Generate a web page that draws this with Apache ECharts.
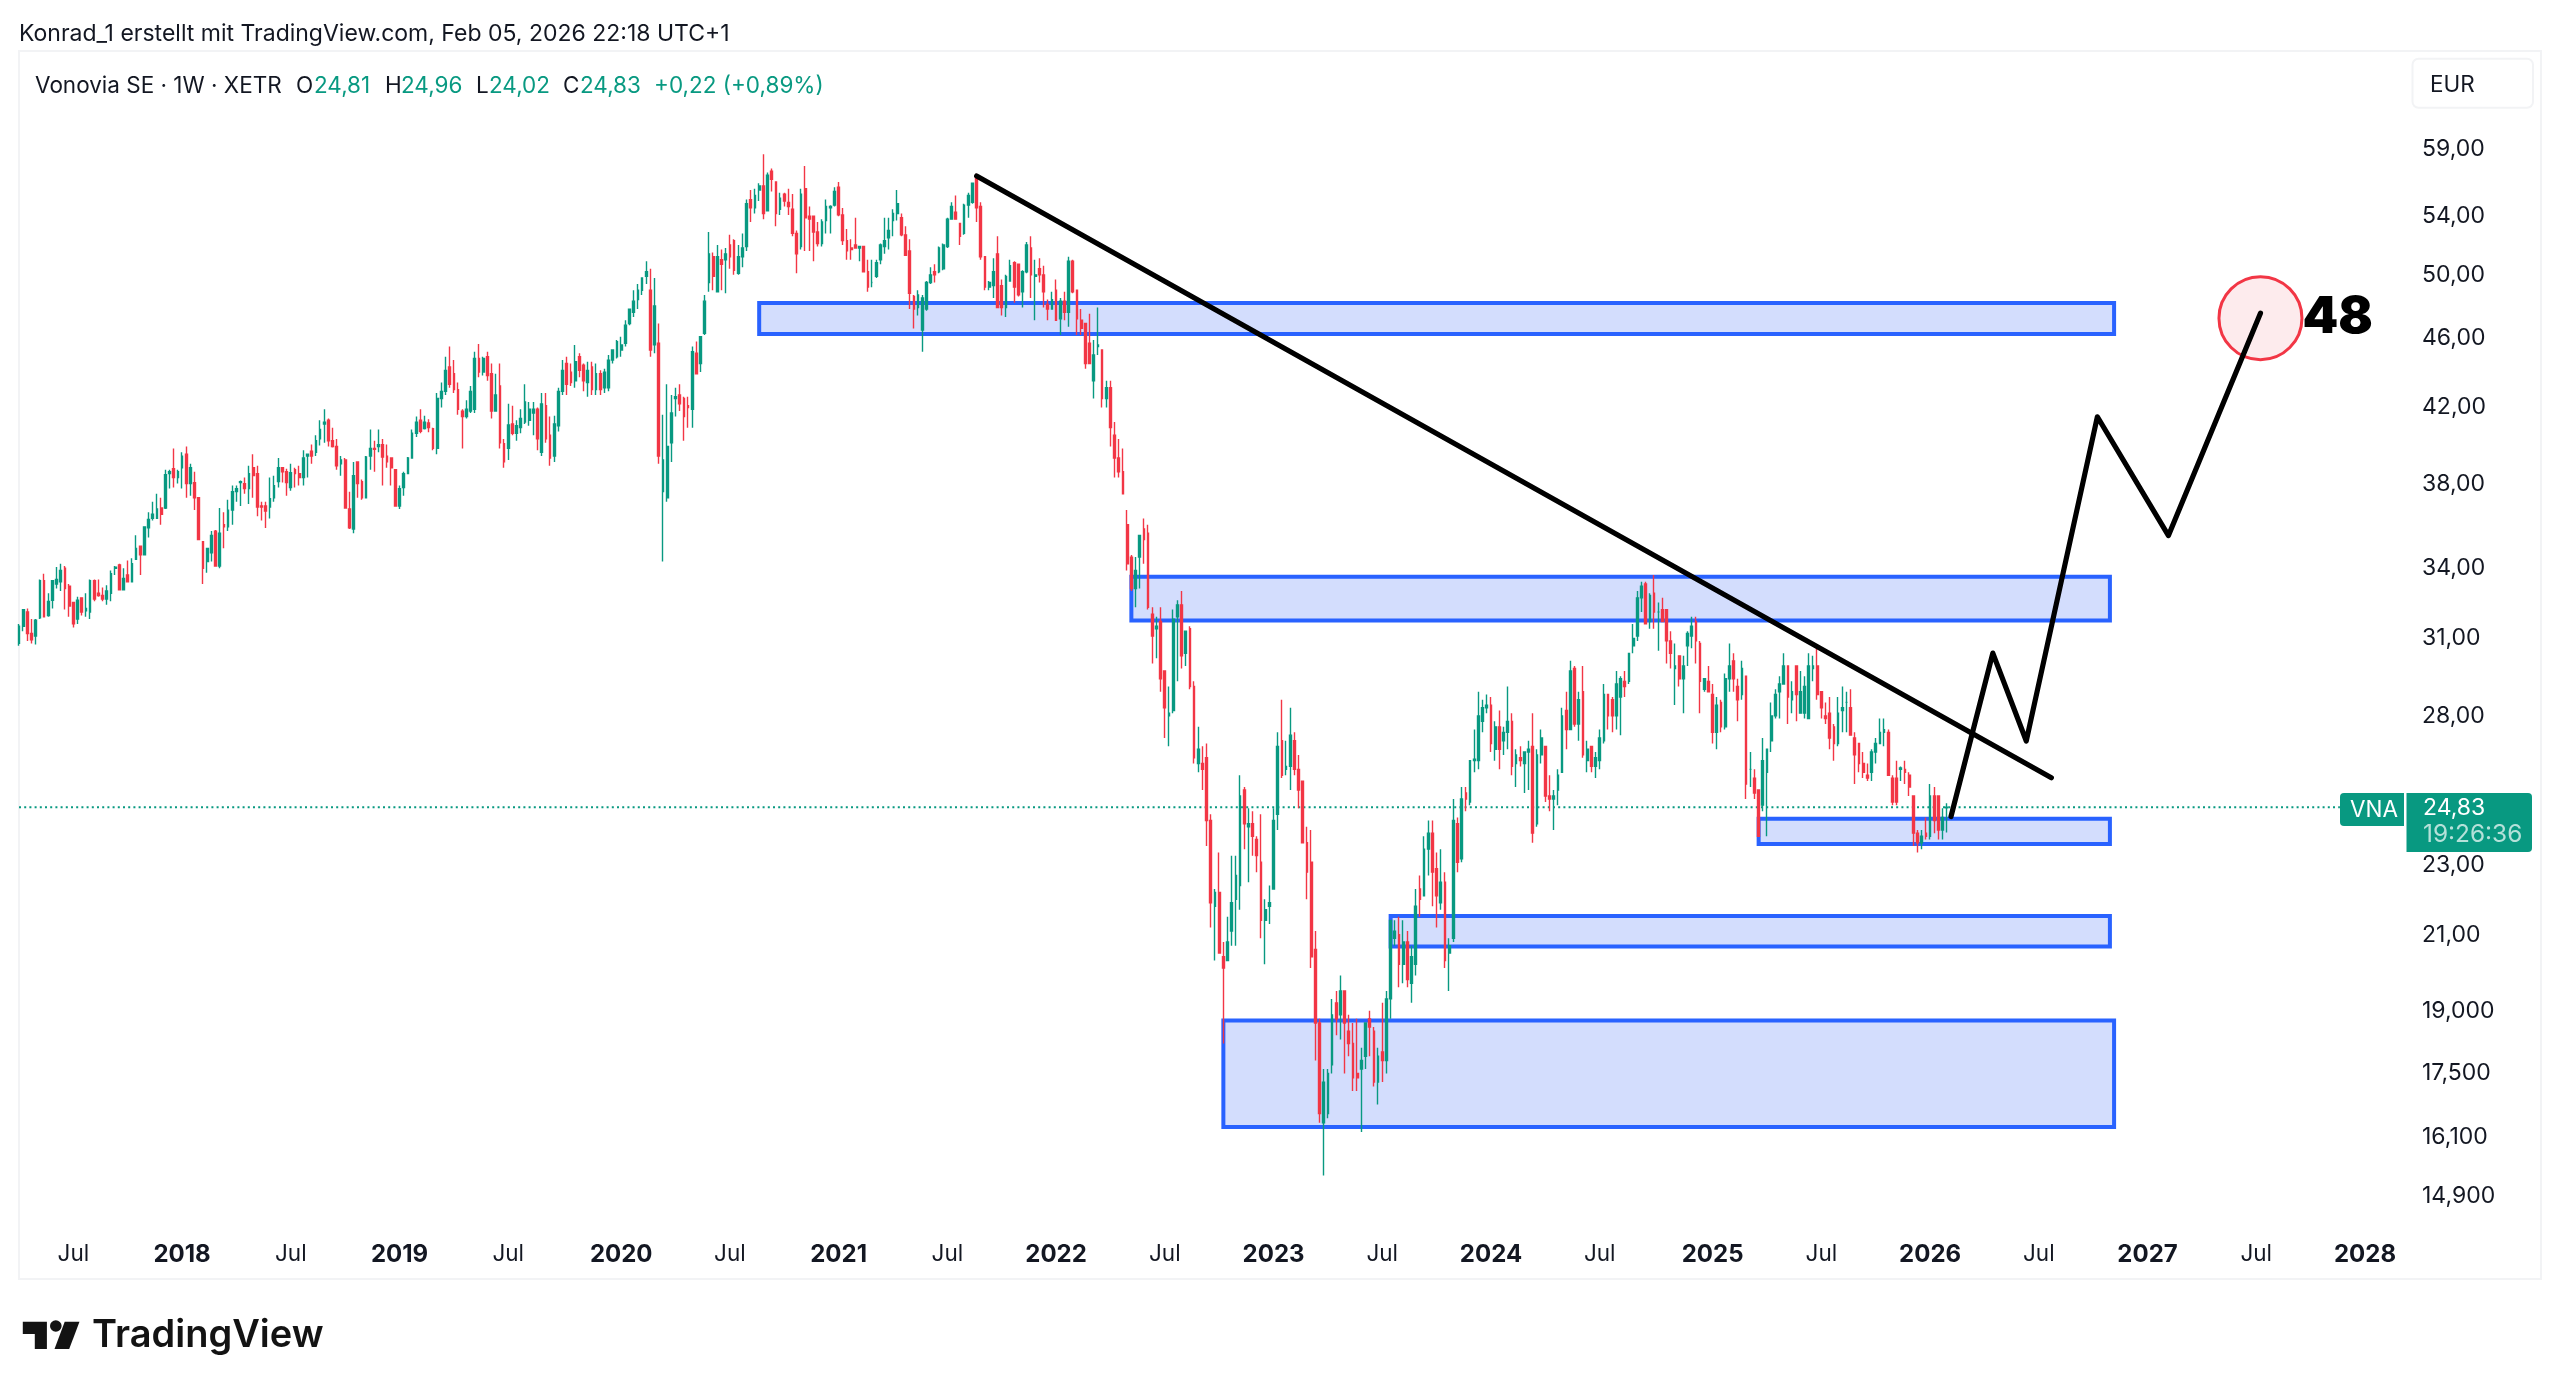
<!DOCTYPE html>
<html><head><meta charset="utf-8">
<style>html,body{margin:0;padding:0;background:#fff}#c{width:2560px;height:1393px}</style>
<script src="https://cdn.jsdelivr.net/npm/echarts@6/dist/echarts.min.js"></script>
</head><body><div id="c"></div>
<script>
// weekly candles, each [open, high, low, close]
const weeks2017=[[30.8,31.6,30.7,31.5],[31.5,32.2,31.3,32.2],[32.1,32.25,30.9,31.2],[31.2,31.8,30.8,30.95],[31.1,31.8,30.75,31.75],[31.85,33.5,31.8,33.45],[33.45,33.75,31.9,31.9],[31.95,32.9,31.9,32.55],[32.6,33.45,32.25,33.45],[33.3,34.05,33.1,33.5],[33.4,34.2,33,33.9],[34,34.1,32.2,33.1],[33.2,33.3,31.9,32.35],[32.5,32.5,31.45,31.6],[31.8,32.75,31.6,32.6],[32.7,32.7,31.95,32.1],[32.15,32.9,31.9,32.25],[32.1,33.5,31.8,33.45],[33.45,33.5,32.55,32.65],[32.9,33.5,32.75,32.8],[32.8,33.15,32.55,32.65],[32.65,33.25,32.4,33],[32.9,33.9,32.55,33.75],[34,34.1,33.7,34.05],[34.15,34.2,33.05,33.05],[33.05,34,33.05,33.55],[33.7,34.35,33.4,33.4],[33.4,34.45,33.4,34.2],[34.4,35.5,34.4,34.9],[35,35,33.7,34.6],[34.6,35.9,34.6,35.9],[35.85,36.6,35.4,36.25],[36.3,37.1,36.2,36.5],[36.3,37.5,36.3,36.75],[36.8,37.3,36,36.5],[36.8,38.7,36.75,38.45],[38.5,38.7,37.75,38.6],[38.75,39.8,37.8,38.3],[38.3,38.7,38,38.6]];
const weeks2018=[[38.8,39.6,37.75,39.4],[39.5,39.9,37.3,38],[38,39,37.4,38.8],[38.05,38.6,36.7,37.3],[37.3,37.3,35.3,35.3],[35.2,35.2,33.3,34],[34.3,34.9,33.8,34.9],[34.7,35.7,34.3,35.5],[35.7,35.75,34.1,34.1],[34.1,36.8,34,35.6],[36,36.6,34.9,35.9],[35.9,37.2,35.7,36.7],[36.7,37.9,36,37.6],[37.6,37.9,37.1,37.75],[38.05,38.15,36.9,38.1],[38,38.3,37.5,37.75],[37.75,38.9,37,38.5],[38.8,39.5,37.3,38.4],[38.5,38.9,36.4,36.85],[36.9,37.1,36.2,36.85],[36.9,37.1,35.85,36.65],[36.85,38.3,36.3,37.25],[37.3,38.4,37.1,37.9],[38.1,39.3,37.8,38.8],[38.8,38.8,38.05,38.6],[38.6,38.75,37.4,38.05],[37.8,39,37.65,38.55],[38.7,38.8,37.8,38.5],[38.5,38.9,37.9,38.3],[38.3,39.7,37.9,39.3],[39.4,39.5,38.3,39.5],[39.65,40,39,39.4],[39.6,40.5,39.4,40.2],[40.3,41.3,39.95,40.8],[41.1,41.9,40.1,41.2],[41.3,41.4,39.9,40.2],[40.2,40.9,39.85,39.9],[39.9,40.3,38.7,38.9],[39,39.4,38.4,39.2],[39.2,39.3,36.8,36.8],[36.75,37.6,35.8,35.85],[35.8,39.1,35.6,38.4],[39.1,39.1,37.3,38],[38.1,38.2,37.2,37.3],[37.3,39.4,37.3,39.35],[39.4,40.8,38.7,39.8],[39.8,40.2,38.6,39.75],[39.9,40.8,39.6,40],[40,40.3,37.9,39.35],[39.4,40,38.8,39.1],[39.3,39.3,37.9,38.8],[38.7,38.7,36.9,36.9]];
const weeks2019=[[36.9,37.9,36.75,37.75],[37.8,38.6,37.4,38.5],[38.5,39.35,38.5,39.3],[39.3,40.8,39.3,40.6],[40.6,41.5,40.4,41.2],[41.3,41.9,40.6,40.7],[40.85,41.55,40.8,41.2],[41.15,41.35,40.65,40.9],[40.85,40.9,39.7,39.8],[39.8,42.8,39.5,42.5],[42.5,43.4,42,42.9],[42.9,44.9,42.7,44.1],[44.3,45.5,43.1,43.3],[43.9,44.7,42.8,43],[43,43.4,41.6,41.9],[41.8,41.9,39.8,41.5],[41.5,42.4,41.4,41.9],[41.8,43.2,41.7,42.9],[41.9,45.2,41.7,44.8],[44.8,45.65,43.7,44],[44,44.9,43.8,44.8],[44.9,45.2,43.5,43.8],[43.9,44.5,41.4,41.8],[41.8,43.9,41.8,42.7],[43.2,44.5,39.8,40.1],[40.05,40.3,38.8,39.1],[39.8,42.2,39.2,41.05],[41.1,42.1,40.5,40.6],[40.6,41.3,40.2,41],[40.9,41.9,40.6,41.4],[41.2,43.3,41.1,42.3],[41.3,42.3,41,41.9],[41.7,42.3,40.5,41.9],[41.9,42,39.7,40.3],[39.6,42.8,39.4,42.2],[42.1,42.8,40.1,40.3],[40.5,41.5,38.9,39.3],[39.4,41.55,39.1,41.1],[41,43.1,40.7,42.9],[42.9,44.7,42.7,44.1],[44.5,44.9,42.7,43.3],[44,44.5,43.2,43.4],[43.5,45.6,43.1,44.6],[44.9,45.1,43.7,44.1],[44.4,44.5,42.9,43.5],[43.4,44.6,42.6,44.1],[44.3,44.6,42.7,43],[43,44.5,42.7,43.9],[43.9,44.1,42.7,43],[43.1,44.2,42.8,44],[43.1,45,42.9,44.7],[44.7,45.3,44.5,45.3]];
const weeks2020=[[44.9,45.9,44.8,45.8],[45.3,46.1,44.9,45.6],[45.7,47.1,45.5,46.8],[46.9,47.8,46.8,47.8],[47.6,49,47.3,48.3],[48.4,49.4,47.8,49],[49,49.8,48.7,49.8],[49.9,50.9,49.4,50.2],[49,50.4,44.9,45.3],[45.6,49.8,45.1,48],[45.7,46.9,39,39.4],[37.6,41.6,34.3,39.2],[37.3,43.3,37.1,39.9],[40.1,42.7,39.1,41.7],[42.5,43.1,41.5,42.6],[42.7,43.3,41.8,42.2],[42.5,42.6,40.2,41.5],[42.1,42.6,40.9,42],[41.9,45.5,40.9,45.2],[45.1,45.8,43.9,43.9],[44.5,46.1,44,46.1],[46.3,48.7,46.2,48.3],[49.5,52.9,48.9,51.4],[51.2,51.5,49,49.9],[48.9,52,48.9,51.2],[51,51.7,49,50.7],[51,51.8,48.8,51.4],[52,52.7,50.4,51.2],[52.3,52.4,50,50.3],[50.1,52,50,51.2],[51.2,52.8,50.5,51.8],[51.9,55.2,51.6,54.9],[55.2,55.9,53.6,54.6],[54.6,56,54.2,55.5],[55.9,56.4,55.1,56.2],[56.2,58.6,53.8,54.2],[54.4,57.2,54.4,57],[57.3,57.5,55.8,56.7],[56.5,56.5,53.3,54.2],[54.5,55.7,54.1,55.3],[55.6,55.7,54.7,55.1],[55,56,54.1,54.7],[54.5,55.6,52.6,52.8],[52.8,53,50.1,51.4],[51.9,56,51.7,55.6],[56,57.7,51.6,53.9],[54,54.7,51.6,53.8],[54,54,50.9,52.9],[52.9,53.6,51.9,52.1],[52.1,53.8,51.9,53.6],[53.7,55.2,52.8,54.7],[54.6,54.8,52.8,54.7]];
const weeks2021=[[54.8,56.1,54.7,55.8],[56.1,56.5,54,54.1],[54.1,54.6,52,52.3],[52.3,53.1,51,51.6],[51.8,52.4,51,51.7],[52,53.9,51.8,51.8],[51.8,51.9,50.9,51.9],[51.9,51.9,50.2,50.2],[50.2,51,48.9,49.2],[49.5,51,49.2,49.5],[49.9,51,49.8,50.8],[51,52.1,50.7,52],[51.9,53.9,51.4,52.3],[52.5,53.9,51.7,53],[53.7,54.5,52.6,54.2],[54.2,55.9,53.7,54.9],[53.9,54.2,52.6,52.7],[52.7,53.3,51.3,51.3],[51.6,52.4,47.8,48.8],[48.6,48.7,46.6,47.8],[47.9,49,47.4,48.7],[46.5,48.7,45.2,48.5],[47.8,49.6,47.7,49.5],[49.5,50.5,49.4,50],[50.2,50.7,49.5,50],[50.2,51.9,50.1,51.8],[50.4,52.1,50.3,52],[51.9,53.9,51.8,53.8],[53.8,55,53.8,54.7],[54.3,55.5,53.8,53.8],[53.5,53.5,52,52.6],[52.8,54.9,52.7,54.8],[54.8,55.7,53.9,55.5],[55,56.4,54.9,56.4],[56.8,57.1,53.6,54.6],[54.7,55,51,51.2],[51.2,51.2,49,49.2],[49.2,49.6,49,49.5],[49.3,51.1,48.5,50.2],[51.4,52.6,47.9,47.9],[49.3,49.7,47.4,47.9],[47.9,50,47.3,49.9],[49.6,51,49.6,50.6],[50.8,50.9,48.2,49.2],[50.7,50.7,48.6,48.7],[48.9,50.3,47.9,50.2],[50.2,52.2,50.1,52],[51.8,52.6,48.5,50],[49.9,51,47.1,50],[50.4,51.1,49.5,50],[50,50.6,47.9,48.9],[48.1,48.4,47.1,47.8]];
const weeks2022=[[47.8,48.9,47.8,48.4],[49,49.7,47.1,47.1],[47.2,48.5,46.2,48.3],[48.3,48.9,47.1,47.6],[47.6,51.2,46.7,50.9],[50.9,51,48.8,48.9],[49,49,46.2,47.2],[47.1,47.8,46.2,46.6],[46.9,46.9,44.2,44.5],[45.7,47.5,44.5,44.5],[43.5,45.9,42.5,45],[45.5,47.9,45,45.6],[45.3,45.3,42,42.5],[42.5,43.5,42,43.1],[43.1,43.5,39.9,40.9],[40.5,41.2,38.3,39.3],[39.3,40.3,38.3,38.6],[38.6,39.8,37.5,37.5],[36,36.7,33.9,34.2],[34.5,34.6,33,33.1],[33.1,34.5,32.3,33.9],[34.5,35.5,33.1,35.5],[35.8,36.3,34.2,35.3],[35.6,36,32.2,32.3],[32,32.3,30,31.1],[31.4,31.9,30.2,31.5],[31.7,32.3,28.9,29.4],[29.7,29.7,27.2,28.3],[28,29.1,26.9,28.1],[28.2,32.2,28.1,31.8],[31.9,32.6,29.3,32.4],[32.4,33,29.8,30.3],[30.4,31.3,29.9,31.3],[31.4,31.5,29,29.1],[29.1,29.3,26.3,26.5],[26.3,27.6,26,26.8],[26.3,26.9,25.4,26.1],[26.5,27,23.6,24.4],[24.4,24.6,21.2,21.9],[21.8,22.3,20.3,22.2],[22.2,23.4,20.5,20.5],[20.4,20.8,18.2,20.1],[20.3,21.5,20.3,20.8],[21.1,23.3,20.7,21.9],[22,23.3,20.7,22.7],[22.4,25.9,21.7,25.2],[25.4,25.5,23.5,24.3],[24.2,24.8,22.5,24.3],[24.3,24.7,23.3,23.9],[23.8,23.9,22.8,23.3],[23.1,24.6,20.9,21.4],[21.4,22,20.2,21.7]];
const weeks2023=[[21.8,22.4,21.3,21.9],[22.3,24.8,22.3,24.4],[24.6,27.4,24.1,26.9],[27.1,28.6,25.8,25.9],[26.1,27.1,25.9,26.2],[26.2,28.3,25.4,27.3],[27.1,27.4,25.9,26.1],[26.1,26.6,24.8,25.4],[25.7,25.7,23.7,23.7],[23.7,24.2,22,22.8],[23.1,24.1,20.1,20.4],[20.6,21.1,17.8,18.7],[18.7,18.8,16.4,16.6],[16.4,17.6,15.3,17.3],[16.6,17.6,16.5,17.5],[17.7,19.3,17.5,18.9],[19.2,19.5,18.4,18.8],[18.9,19.9,18.3,19.5],[19.5,19.5,17.5,18.7],[18.5,18.9,17.9,18.2],[18.2,18.7,17.1,17.4],[17.5,18.8,17.1,17.4],[17.6,18.1,16.2,17.8],[17.9,18.7,17.6,18.7],[18.8,19,17.9,18.6],[18.5,18.6,17.2,17.3],[17.3,18.1,16.8,17.9],[18,19.2,17.3,17.8],[17.8,19.5,17.5,19.3],[19.3,21.4,18.8,21.4],[20.9,21.4,20.7,21.1],[21,21.5,19.6,20.2],[20.2,21.4,19.7,20.8],[20.8,21.1,19.6,19.8],[19.7,20.7,19.2,20.4],[20.2,22.3,19.9,21.8],[22.3,22.7,21.5,22],[22.1,23.9,22.1,23.5],[23.5,24.4,22.7,24],[24,24.4,21.8,22.8],[22.9,23.4,21.2,22.1],[21.9,23.5,21.7,22.5],[22.5,22.8,20.1,20.3],[20.5,20.9,19.5,20.7],[20.9,25.1,20.8,24.4],[24.3,24.5,22.8,23.1],[23.2,25.5,23.1,25.1],[25.3,25.5,24.7,25.1],[25,26.4,24.9,26.4],[26.4,27.5,26,26.45],[26.4,28.9,26.1,28],[27.8,28.6,27.4,28.3]];
const weeks2024=[[28.3,28.8,28.1,28.4],[28.4,28.7,26.7,27],[26.8,27.8,26.4,27.6],[27.6,28.2,26.1,26.8],[27.1,27.6,26.6,27.4],[27.4,29.1,26.8,27.8],[27.8,28.1,25.9,26.2],[26.3,26.8,25.5,26.6],[26.5,26.9,26.2,26.4],[26.3,26.7,25.3,26.7],[26.7,27.1,25.4,26.8],[26.9,28.1,23.7,24],[24.3,26.8,24.2,26.6],[26.6,27.5,26.3,27.2],[26.9,26.9,25,25.2],[25.2,25.9,24.7,25.1],[25.1,25.4,24.1,25.2],[25.4,26.1,24.9,25.9],[26,28.3,26,28],[28.2,28.9,26.8,27.5],[27.5,30.1,27.5,29.7],[29.8,29.9,27.6,27.7],[27.7,28.9,27.1,28.6],[28.9,29.9,26.5,26.6],[26.4,27.1,26,26.8],[26.9,26.9,26,26.2],[26.2,26.7,25.8,26.5],[26.4,27.5,26.1,27.2],[27.1,29.2,27,28.8],[28.8,28.8,27.5,28],[28.6,28.7,27.4,28],[28,29.7,27.5,29.2],[28.7,29.5,27.3,29.4],[29.3,29.7,28.7,29.1],[29.3,30.4,29.2,30.4],[30.7,31.6,30.4,31],[31.1,33,30.9,32.7],[32.7,33.4,32.1,33.2],[33.3,33.4,31.6,31.6],[31.7,32.9,31.4,32.8],[32.9,33.7,31.4,32.1],[32.1,32.5,30.5,32.1],[32.2,32.7,31.7,31.7],[32.2,32.2,30,30.9],[30.9,31.3,29.8,30.4],[29.8,30.8,28.4,29.9],[30.3,30.3,29.1,29.4],[29.4,30.3,28.1,29.9],[30.7,31.3,29.9,31.2],[31.1,31.9,30.6,31.5],[31.7,31.9,30,30.9],[30.8,30.9,28.1,29.3],[29,29.4,28.9,29.4]];
const weeks2025=[[29.3,29.9,28.9,28.9],[28.8,29.2,27,27.4],[27.4,28.7,26.8,28.4],[28.5,28.6,27.4,27.6],[27.6,29.6,27.5,29.4],[29.4,30.8,28.9,29.9],[30.1,30.4,28.9,29.4],[29.1,29.4,27.8,28.6],[28.8,30.1,28.6,29.8],[29.5,29.5,25.1,25.6],[26.1,26.7,25.5,26.1],[25.8,26.1,25.1,25.3],[25.4,25.4,23.9,23.9],[24.9,27.2,24.7,26.4],[26,26.8,23.9,26.8],[27.1,28.5,26.7,28],[28,29,27.9,28.8],[28.9,29.5,27.9,29.2],[29.2,30.4,29.2,29.9],[29.9,29.9,27.7,28.7],[28.6,29.3,28.1,28.9],[29.9,29.9,27.8,28.8],[28.1,29.7,28.1,28.9],[28.1,29.5,27.9,29.1],[27.9,30.4,27.9,29.9],[29.8,30.3,29.3,29.9],[29.9,30.7,28.6,28.8],[28.9,28.9,27.9,28.3],[28,28.5,27.7,27.9],[28.1,28.7,26.8,27.2],[27.6,27.7,26.4,27],[27,28.7,26.9,28.1],[28.2,29.1,27.4,28.3],[28.5,28.9,27.4,28.5],[28.3,29,27.3,27.3],[27.2,27.4,25.6,26.6],[27,27,26,26.3],[26.3,26.7,25.8,26],[25.9,26.3,25.7,25.8],[26,26.8,25.7,26.7],[26.7,27.2,26.3,27],[27,27.9,27,27.4],[27.4,27.9,26.9,27.5],[27.4,27.5,25.9,25.9],[25.8,25.9,24.9,25],[25.8,26.4,24.9,25],[26.1,26.2,25.7,26.15],[26.1,26.4,25.6,26],[25.9,26,25.2,25.5],[25.2,25.2,23.6,24],[24,24.1,23.4,23.7],[23.7,24.1,23.5,23.9]];
const weeks2026=[[24,24.5,23.8,23.9],[23.9,25.6,23.8,25.2],[25.2,25.5,24,24.4],[25.2,25.2,23.8,24.1],[24.1,24.8,23.8,24.5],[24.81,24.96,24.02,24.83]];

const lastClose = 24.83;
const firstWeek = '2017-04-03';
const weekCount = 573;

const yMin = 14.15, yMax = 67.11;
const yTickValues = [59,54,50,46,42,38,34,31,28,23,21,19,17.5,16.1,14.9];
const yTickLabels = ['59,00','54,00','50,00','46,00','42,00','38,00','34,00','31,00','28,00','23,00','21,00','19,000','17,500','16,100','14,900'];
const xTickDates = ['2017-07-03','2018-01-01','2018-07-02','2018-12-31','2019-07-01','2020-01-06','2020-07-06','2021-01-04','2021-07-05','2022-01-03','2022-07-04','2023-01-02','2023-07-03','2024-01-01','2024-07-01','2025-01-06','2025-07-07','2026-01-05','2026-07-06','2027-01-04','2027-07-05','2028-01-03'];
const xTickLabels = ['Jul','2018','Jul','2019','Jul','2020','Jul','2021','Jul','2022','Jul','2023','Jul','2024','Jul','2025','Jul','2026','Jul','2027','Jul','2028'];

// supply / demand zones: start week index, end week index, top price, bottom price
const zoneStart  = [177, 266, 416, 328, 288];
const zoneEnd    = [501, 500, 500, 500, 501];
const zoneTop    = [48.18, 33.62, 24.46, 21.52, 18.76];
const zoneBottom = [46.26, 31.74, 23.66, 20.68, 16.31];

const trendLine = [[229,56.94],[486,25.81]];
const projection = [[462,24.53],[472,30.41],[480,27.09],[497,41.49],[514,35.49],[536,47.54]];
const targetPoint = [[536,47.23]];
const targetText = '48';

const UP='#089981', DOWN='#F23645', INK='#131722', FONT='Inter, "Noto Sans", sans-serif';

const weekStarts=[];
{ const t0=Date.parse(firstWeek+'T00:00:00Z');
  for(let i=0;i<weekCount;i++) weekStarts.push(new Date(t0+i*7*864e5).toISOString().slice(0,10)); }
const ohlc=[...weeks2017,...weeks2018,...weeks2019,...weeks2020,...weeks2021,...weeks2022,...weeks2023,...weeks2024,...weeks2025,...weeks2026];
const candleData=ohlc.map(r=>[r[0],r[3],r[2],r[1]]);
const zoneData=zoneStart.map((s,i)=>[s,zoneEnd[i],zoneTop[i],zoneBottom[i]]);
const xTickMap=new Map(xTickDates.map((d,i)=>[d,xTickLabels[i]]));

function txt(x,y,text,fill,extra){
  return {type:'text',x,y,z:50,silent:true,style:Object.assign({text,fill,font:'22.5px '+FONT,textVerticalAlign:'middle',textBaseline:'middle'},extra||{})};
}

const chart=echarts.init(document.getElementById('c'),null,{renderer:'canvas',width:2560,height:1393});
chart.setOption({
  animation:false,
  backgroundColor:'#fff',
  grid:{left:19,top:51,width:2392,height:1184,containLabel:false},
  xAxis:{type:'category',data:weekStarts,boundaryGap:false,
    axisLine:{show:false},axisTick:{show:false},splitLine:{show:false},
    axisLabel:{show:true,margin:8,interval:(i,v)=>xTickMap.has(v),hideOverlap:false,
      formatter:v=>{const l=xTickMap.get(v)||'';return l==='Jul'?'{m|'+l+'}':'{y|'+l+'}';},
      rich:{m:{fontFamily:FONT,fontSize:22.5,color:INK},y:{fontFamily:FONT,fontSize:24,fontWeight:700,color:INK}}}},
  yAxis:{type:'log',logBase:10,min:yMin,max:yMax,position:'right',scale:true,
    axisLine:{show:false},axisTick:{show:false},splitLine:{show:false},minorTick:{show:false},
    axisLabel:{show:true,margin:11,customValues:yTickValues,color:INK,fontFamily:FONT,fontSize:23,padding:[3,0,0,0],
      formatter:v=>{let b=0;yTickValues.forEach((t,i)=>{if(Math.abs(t-v)<Math.abs(yTickValues[b]-v))b=i;});return yTickLabels[b];}}},
  series:[
    {type:'custom',name:'zones',z:1,silent:true,data:zoneData,clip:true,
      encode:{x:[0,1],y:[2,3]},
      renderItem:(p,api)=>{
        const a=api.coord([api.value(0),api.value(2)]);
        const b=api.coord([api.value(1),api.value(3)]);
        return {type:'rect',shape:{x:a[0],y:a[1],width:b[0]-a[0],height:b[1]-a[1]},
          style:{fill:'#D3DDFD',stroke:'#2962FF',lineWidth:4}};
      }},
    {type:'line',name:'last',z:2,silent:true,symbol:'none',data:[[0,lastClose],[555,lastClose]],
      lineStyle:{color:UP,width:1.8,type:[2,3.2]}},
    {type:'candlestick',name:'VNA',z:3,silent:true,data:candleData,barWidth:2.2,
      itemStyle:{color:UP,color0:DOWN,borderColor:UP,borderColor0:DOWN,borderWidth:1.4}},
    {type:'scatter',name:'target',z:4,silent:true,data:targetPoint,symbol:'circle',symbolSize:83,
      itemStyle:{color:'#FDEBED',borderColor:DOWN,borderWidth:3,opacity:1},
      label:{show:true,position:'right',distance:-1,offset:[0,-1],formatter:targetText,color:'#000',
        fontFamily:FONT,fontWeight:900,fontSize:51}},
    {type:'line',name:'trend',z:5,silent:true,symbol:'none',data:trendLine,
      lineStyle:{color:'#000',width:5.2,cap:'round',join:'round'}},
    {type:'line',name:'projection',z:5,silent:true,symbol:'none',data:projection,
      lineStyle:{color:'#000',width:5.2,cap:'round',join:'round'}}
  ],
  graphic:[
    {type:'rect',z:-1,silent:true,shape:{x:19,y:51,width:2522,height:1228},style:{fill:'none',stroke:'#F2F3F5',lineWidth:2}},
    txt(19,34.5,'Konrad_1 erstellt mit TradingView.com, Feb 05, 2026 22:18 UTC+1',INK,{font:'23px '+FONT}),
    txt(35,86,'Vonovia SE · 1W · XETR',INK),
    txt(296,86,'O',INK),txt(314,86,'24,81',UP),
    txt(385,86,'H',INK),txt(401,86,'24,96',UP),
    txt(476,86,'L',INK),txt(489,86,'24,02',UP),
    txt(563,86,'C',INK),txt(580,86,'24,83',UP),
    txt(654,86,'+0,22 (+0,89%)',UP),
    {type:'rect',z:40,silent:true,shape:{x:2412.5,y:58.7,width:120.5,height:49,r:6},style:{fill:'#fff',stroke:'#F2F3F5',lineWidth:2}},
    txt(2430,85,'EUR',INK),
    {type:'rect',z:40,silent:true,shape:{x:2340,y:793,width:64,height:33,r:[4,0,0,4]},style:{fill:UP}},
    txt(2350,810,'VNA','#fff'),
    {type:'rect',z:40,silent:true,shape:{x:2406.5,y:793,width:125.5,height:59,r:[0,4,4,0]},style:{fill:UP}},
    txt(2423,808,'24,83','#fff',{font:'23px '+FONT}),
    txt(2423,835,'19:26:36','rgba(255,255,255,0.7)',{font:'24.4px '+FONT}),
    {type:'polygon',z:40,silent:true,shape:{points:[[22.8,1321.7],[46.9,1321.7],[46.9,1349],[34.8,1349],[34.8,1334],[22.8,1334]]},style:{fill:'#131313'}},
    {type:'circle',z:40,silent:true,shape:{cx:55.8,cy:1326,r:5.8},style:{fill:'#131313'}},
    {type:'polygon',z:40,silent:true,shape:{points:[[64.7,1321.7],[79.5,1321.7],[69.2,1349],[54.5,1349]]},style:{fill:'#131313'}},
    txt(92,1335.5,'TradingView','#131313',{font:'600 38px '+FONT})
  ]
});
</script></body></html>
